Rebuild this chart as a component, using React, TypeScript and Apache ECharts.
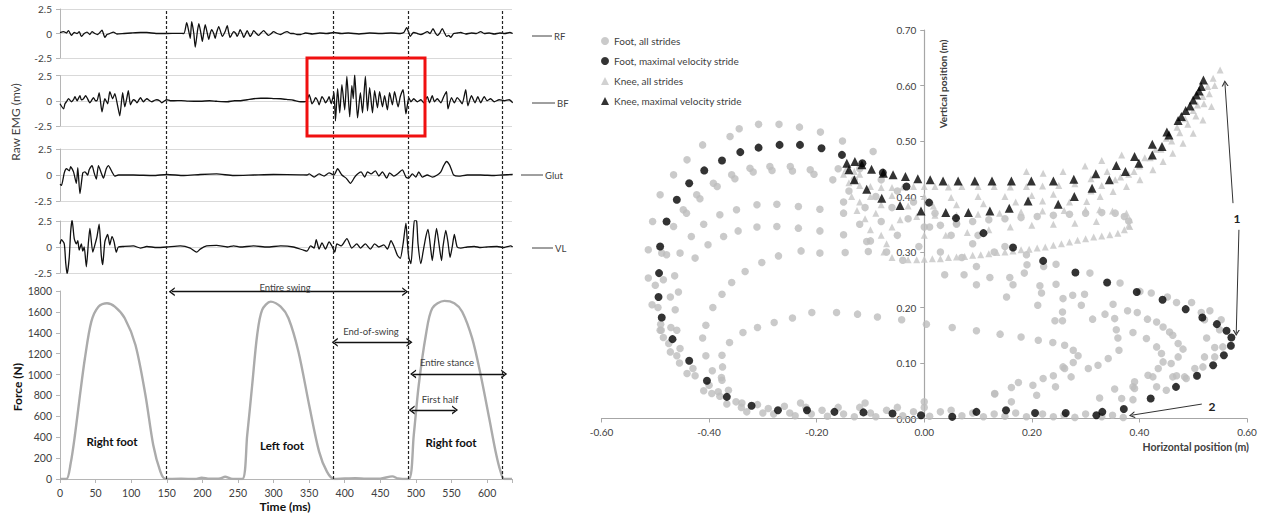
import React, { useEffect, useRef } from 'react';
import * as echarts from 'echarts';

const FONT = 'Lato, "Open Sans", sans-serif';
const TMAX = 635;

// ---------- EMG traces: [time ms, mV] ----------
const rf: number[][] = [[0,0.1],[5,0.2],[9,0.05],[12,0.3],[16,-0.2],[20,0.1],[24,0.0],[27,0.2],[30,-0.3],[34,0.0],[38,0.15],[42,-0.1],[45,0.2],[49,0.0],[53,-0.1],[56,0.1],[59,0.35],[63,-0.4],[66,-0.1],[70,0.0],[75,0.15],[80,-0.05],[90,0.0],[100,0.05],[113,0.1],[122,0.1],[135,0.0],[150,0.0],[165,0.02],[174,0.0],[178,1.1],[181,0.2],[183,-0.5],[185,1.2],[188,0.0],[190,-1.4],[193,0.2],[195,1.0],[198,0.0],[200,-0.8],[202,0.1],[204,0.9],[207,0.0],[209,-0.6],[211,0.0],[213,0.4],[216,0.0],[218,-0.5],[220,0.1],[223,0.7],[226,0.1],[228,-0.3],[232,0.2],[235,0.8],[237,0.1],[239,-0.4],[242,0.0],[244,0.2],[247,0.0],[249,-0.3],[251,0.0],[253,0.4],[256,0.0],[258,-0.4],[261,0.0],[263,0.3],[265,0.0],[267,-0.3],[270,0.0],[272,0.3],[276,0.0],[279,-0.2],[283,0.1],[286,0.3],[290,0.0],[293,-0.2],[297,0.0],[300,0.2],[305,0.0],[310,-0.1],[315,0.1],[319,0.2],[324,0.0],[328,0.0],[333,-0.1],[338,-0.1],[345,0.05],[355,-0.05],[365,0.05],[375,0.0],[385,0.1],[395,0.0],[405,0.05],[420,-0.05],[435,0.05],[450,0.0],[465,0.05],[478,0.0],[483,0.1],[487,0.6],[490,0.1],[492,-0.3],[495,0.0],[497,0.1],[502,0.0],[507,-0.1],[512,0.05],[516,0.2],[520,0.0],[524,0.5],[527,0.1],[530,-0.2],[534,0.1],[537,0.5],[540,0.1],[543,-0.3],[546,-0.2],[549,-0.4],[553,0.0],[558,0.05],[563,0.1],[570,-0.05],[578,0.05],[585,0.0],[591,0.2],[596,0.0],[603,0.05],[610,-0.05],[618,0.05],[625,0.0],[632,0.1],[636,0.0]];

const bf: number[][] = [[0,-0.3],[5,-0.8],[7,-0.3],[10,0.0],[12,0.2],[16,-0.1],[19,0.1],[21,0.4],[24,0.0],[28,0.5],[30,0.1],[33,0.2],[36,0.5],[38,0.3],[42,-0.2],[45,0.1],[47,0.3],[50,0.0],[52,0.0],[55,0.8],[59,-1.1],[63,0.2],[67,-0.3],[70,0.9],[74,0.2],[77,0.7],[81,-0.5],[84,-1.5],[88,0.8],[91,-0.6],[94,0.3],[96,1.0],[99,-0.4],[103,0.1],[106,0.0],[108,-0.2],[111,0.1],[113,0.3],[117,-0.1],[120,0.1],[122,0.2],[126,0.0],[129,-0.1],[133,0.05],[136,0.1],[140,0.0],[143,-0.2],[147,0.0],[150,0.1],[155,0.0],[160,0.0],[170,0.02],[180,-0.03],[197,-0.05],[210,0.0],[220,-0.05],[235,-0.1],[245,0.0],[253,0.0],[263,0.1],[272,0.2],[282,0.25],[291,0.25],[300,0.22],[310,0.2],[320,0.12],[328,0.05],[338,-0.1],[343,-0.1],[347,0.0],[350,0.6],[352,0.2],[354,-0.3],[357,0.0],[359,0.3],[362,0.0],[364,-0.4],[366,0.0],[368,0.4],[371,0.1],[373,-0.2],[376,0.1],[378,0.4],[381,-0.3],[383,0.2],[385,0.8],[387,-2.0],[390,1.2],[393,-1.2],[396,1.6],[400,-0.9],[403,2.4],[407,-1.6],[410,1.5],[412,0.2],[414,2.6],[418,-1.7],[422,0.8],[425,-1.2],[429,2.4],[432,-1.0],[435,1.3],[439,-1.2],[442,1.0],[446,-0.7],[449,0.9],[453,-0.6],[456,0.5],[460,-0.9],[463,0.8],[467,-0.4],[470,0.9],[475,-0.6],[478,0.4],[482,1.1],[486,-1.3],[490,0.3],[493,-0.1],[497,0.2],[502,-0.1],[507,0.1],[511,-0.2],[516,0.4],[519,-0.2],[523,0.5],[526,-0.1],[530,0.2],[535,-0.2],[539,0.4],[543,0.9],[545,-0.8],[550,0.3],[554,-0.2],[558,0.3],[562,0.0],[565,-0.3],[570,1.1],[573,-0.5],[578,0.5],[583,-0.2],[587,0.4],[591,-0.2],[596,0.4],[600,0.0],[605,0.2],[610,-0.1],[617,0.1],[624,0.0],[631,0.1],[636,-0.2]];

const glut: number[][] = [[0,-0.9],[2,-1.0],[6,0.2],[9,0.6],[13,0.4],[15,0.8],[19,0.3],[23,-0.8],[25,0.7],[28,-1.8],[32,0.2],[35,0.3],[39,0.0],[41,0.5],[45,0.9],[48,0.2],[51,-0.4],[54,0.9],[58,0.2],[61,-0.3],[65,0.6],[68,0.9],[73,0.3],[77,-0.1],[82,0.0],[103,0.0],[131,-0.05],[150,0.05],[174,-0.05],[197,0.05],[220,0.1],[244,-0.05],[272,0.0],[300,0.05],[338,0.02],[347,0.0],[350,0.1],[357,-0.2],[364,0.1],[371,-0.1],[378,0.2],[385,0.0],[390,0.6],[396,0.0],[402,-0.3],[408,-0.8],[414,-0.2],[418,0.1],[423,0.3],[428,-0.2],[432,0.3],[437,0.1],[443,0.4],[448,-0.1],[453,0.3],[459,-0.3],[463,0.2],[469,-0.1],[474,0.1],[481,0.5],[486,-0.2],[490,-0.3],[495,0.1],[500,-0.2],[504,0.3],[509,-0.2],[516,0.0],[523,-0.2],[530,0.0],[535,0.3],[539,0.9],[543,1.3],[547,1.0],[550,0.5],[553,0.0],[560,-0.1],[572,0.0],[591,0.0],[610,-0.05],[621,0.0],[636,0.05]];

const vl: number[][] = [[0,0.3],[2,0.7],[6,0.3],[8,-1.5],[10,-2.6],[13,-1.0],[15,1.5],[17,2.6],[20,0.8],[23,0.3],[25,0.6],[27,-0.3],[30,0.3],[32,-0.4],[34,0.0],[37,-1.9],[40,0.5],[42,1.8],[46,-0.5],[49,0.2],[52,1.0],[55,2.2],[58,-0.8],[60,-1.7],[63,0.5],[67,1.2],[70,0.2],[73,1.0],[76,0.5],[79,-0.5],[82,0.0],[90,0.05],[103,0.1],[113,-0.1],[122,0.05],[136,-0.05],[150,0.0],[169,0.1],[183,-0.1],[192,-0.5],[197,-0.2],[206,0.1],[220,0.15],[235,0.0],[244,0.1],[253,0.0],[272,0.1],[291,0.0],[310,0.1],[328,0.0],[342,-0.3],[347,-0.4],[352,0.1],[357,-0.1],[360,0.7],[364,-0.2],[368,0.4],[373,-0.2],[378,0.5],[382,0.1],[386,-0.5],[389,0.3],[395,0.1],[403,0.8],[410,-0.1],[417,0.3],[422,-0.1],[429,0.3],[436,-0.2],[442,0.3],[448,0.0],[455,0.2],[460,-0.2],[465,0.6],[469,0.1],[474,-0.8],[478,-1.1],[482,0.3],[486,2.3],[488,0.5],[490,-1.0],[493,-1.6],[496,1.0],[498,2.6],[501,2.5],[503,0.3],[507,-1.6],[510,-0.5],[514,1.0],[517,1.7],[521,-0.3],[523,-1.3],[526,0.3],[529,1.8],[532,0.5],[536,-1.3],[538,0.0],[542,1.6],[545,0.5],[548,-1.0],[551,0.0],[554,1.2],[558,0.0],[563,-0.1],[572,0.0],[582,0.05],[591,-0.05],[600,0.0],[614,0.05],[624,-0.05],[633,0.1],[636,0.0]];

// ---------- Vertical force: [time ms, N] ----------
const force: number[][] = [[0,0],[9,0],[15,150],[21,421],[28,800],[35,1156],[44,1507],[54,1650],[66,1683],[77,1650],[91,1539],[106,1283],[120,805],[131,326],[141,70],[148,0],[170,3],[190,0],[199,12],[210,2],[225,5],[232,22],[240,4],[256,0],[263,420],[270,900],[277,1379],[284,1619],[296,1698],[310,1650],[321,1539],[335,1219],[350,709],[364,262],[375,70],[385,0],[400,5],[415,8],[430,2],[450,4],[467,25],[475,5],[490,0],[497,421],[504,900],[514,1379],[523,1635],[540,1705],[554,1683],[565,1602],[579,1348],[591,996],[603,581],[612,262],[619,70],[624,0],[635,0]];

const phaseTimes = [149, 384, 489, 621];
const forceTicks = [0, 200, 400, 600, 800, 1000, 1200, 1400, 1600, 1800];

// ---------- Trajectories: [horizontal m, vertical m] ----------
const footMax: number[][] = [[-0.153,0.475],[-0.191,0.487],[-0.231,0.493],[-0.269,0.493],[-0.308,0.488],[-0.342,0.480],[-0.376,0.465],[-0.409,0.447],[-0.437,0.424],[-0.460,0.394],[-0.479,0.355],[-0.491,0.310],[-0.493,0.262],[-0.494,0.219],[-0.488,0.182],[-0.468,0.143],[-0.437,0.104],[-0.404,0.068],[-0.367,0.039],[-0.321,0.023],[-0.272,0.015],[-0.218,0.015],[-0.167,0.012],[-0.113,0.011],[-0.059,0.009],[-0.006,0.006],[0.052,0.003],[0.097,0.012],[0.152,0.015],[0.206,0.010],[0.263,0.010],[0.320,0.006],[0.331,0.012],[0.371,0.017],[0.421,0.036],[0.468,0.057],[0.507,0.077],[0.537,0.096],[0.557,0.114],[0.570,0.131],[0.571,0.146],[0.562,0.158],[0.544,0.170],[0.517,0.182],[0.486,0.197],[0.443,0.214],[0.395,0.228],[0.340,0.245],[0.281,0.263],[0.221,0.284],[0.165,0.308],[0.110,0.334],[0.059,0.361],[0.009,0.389],[-0.033,0.418],[-0.077,0.443],[-0.115,0.460]];

const kneeMax: number[][] = [[-0.144,0.460],[-0.129,0.463],[-0.116,0.457],[-0.098,0.449],[-0.076,0.442],[-0.058,0.439],[-0.035,0.436],[-0.012,0.432],[0.011,0.430],[0.035,0.428],[0.063,0.428],[0.094,0.428],[0.126,0.428],[0.162,0.428],[0.199,0.428],[0.240,0.428],[0.278,0.431],[0.319,0.441],[0.357,0.456],[0.391,0.472],[0.424,0.494],[0.451,0.516],[0.472,0.537],[0.486,0.555],[0.500,0.574],[0.511,0.590],[0.519,0.610],[0.515,0.598],[0.506,0.583],[0.494,0.563],[0.478,0.544],[0.455,0.511],[0.442,0.490],[0.424,0.475],[0.399,0.460],[0.374,0.445],[0.344,0.430],[0.312,0.415],[0.279,0.400],[0.249,0.386],[0.193,0.392],[0.158,0.379],[0.122,0.374],[0.082,0.371],[0.040,0.371],[-0.006,0.374],[-0.045,0.384],[-0.079,0.397],[-0.107,0.413],[-0.130,0.430],[-0.140,0.448]];

const footAll: number[][] = [
[-0.095,0.481],[-0.152,0.500],[-0.193,0.516],[-0.232,0.525],[-0.270,0.530],[-0.308,0.530],[-0.344,0.522],[-0.361,0.508],[-0.412,0.493],[-0.441,0.466],[-0.466,0.439],[-0.491,0.403],[-0.505,0.355],[-0.513,0.304],
[-0.212,0.448],[-0.249,0.454],[-0.287,0.454],[-0.324,0.451],[-0.358,0.439],[-0.392,0.424],[-0.423,0.403],[-0.448,0.376],[-0.466,0.346],[-0.488,0.298],
[-0.205,0.440],[-0.245,0.446],[-0.283,0.447],[-0.318,0.444],[-0.352,0.432],[-0.385,0.418],[-0.417,0.396],[-0.442,0.370],
[-0.150,0.370],[-0.194,0.377],[-0.234,0.382],[-0.274,0.386],[-0.311,0.385],[-0.349,0.376],[-0.380,0.367],[-0.410,0.350],[-0.433,0.328],[-0.454,0.298],[-0.426,0.289],
[-0.107,0.319],[-0.150,0.331],[-0.194,0.338],[-0.234,0.343],[-0.274,0.346],[-0.311,0.345],[-0.346,0.338],[-0.373,0.328],[-0.402,0.313],
[-0.104,0.301],[-0.147,0.299],[-0.194,0.298],[-0.229,0.302],[-0.271,0.293],[-0.302,0.281],[-0.333,0.265],[-0.358,0.245],[-0.376,0.224],[-0.393,0.200],[-0.406,0.168],[-0.412,0.145],[-0.406,0.113],[-0.394,0.086],[-0.376,0.069],[-0.364,0.051],
[-0.042,0.178],[-0.087,0.183],[-0.124,0.188],[-0.163,0.191],[-0.209,0.191],[-0.245,0.181],[-0.279,0.173],[-0.310,0.164],[-0.337,0.155],[-0.362,0.137],[-0.376,0.114],[-0.375,0.093],[-0.377,0.074],
[0.004,0.170],[0.052,0.164],[0.097,0.158],[0.141,0.152],[0.180,0.147],[0.212,0.141],[0.239,0.137],[0.261,0.132],[0.277,0.123],[0.286,0.113],[0.277,0.101],[0.261,0.090],[0.240,0.077],[0.221,0.072],[0.202,0.060],[0.175,0.065],[0.162,0.056],[0.131,0.044],
[-0.513,0.253],[-0.506,0.205],[-0.489,0.159],[-0.485,0.146],[-0.472,0.120],[-0.460,0.113],[-0.454,0.126],[-0.441,0.081],[-0.426,0.077],[-0.410,0.050],[-0.395,0.045],[-0.383,0.048],[-0.367,0.026],[-0.339,0.028],[-0.460,0.159],[-0.464,0.257],[-0.472,0.219],[-0.457,0.228],[-0.463,0.196],[-0.471,0.164],[-0.491,0.159],[-0.485,0.250],[-0.479,0.295],
[-0.500,0.240],[-0.495,0.200],[-0.490,0.170],[-0.475,0.135],[-0.455,0.100],[-0.430,0.090],[-0.400,0.060],[-0.380,0.040],[-0.350,0.030],
[-0.340,0.020],[-0.330,0.012],[-0.300,0.010],[-0.290,0.018],[-0.280,0.008],[-0.260,0.022],[-0.250,0.010],[-0.240,0.005],[-0.220,0.020],[-0.210,0.008],[-0.190,0.015],[-0.180,0.004],[-0.160,0.020],[-0.150,0.008],[-0.130,0.003],[-0.120,0.020],[-0.100,0.010],[-0.090,0.003],[-0.070,0.015],[-0.050,0.020],[-0.040,0.005],[-0.020,0.012],[0.000,0.020],[0.010,0.004],[0.030,0.012],[0.050,0.015],[0.070,0.005],[0.090,0.010],[0.110,0.003],[0.130,0.008],[0.150,0.004],[0.170,0.010],[0.190,0.003],[0.220,0.008],[0.240,0.003],[0.260,0.006],[0.280,0.002],[0.300,0.008],[0.330,0.003],[0.350,0.006],[0.370,0.002],[-0.230,0.028],[-0.110,0.028],[0.000,0.030],[-0.310,0.025],
[0.222,0.274],[0.245,0.278],[0.308,0.262],[0.364,0.244],[0.401,0.229],[0.422,0.226],[0.452,0.219],[0.469,0.209],[0.497,0.209],[0.515,0.191],[0.531,0.194],[0.552,0.178],[0.521,0.178],[0.549,0.160],[0.525,0.145],[0.540,0.128],[0.555,0.129],[0.521,0.111],[0.540,0.111],[0.518,0.093],[0.503,0.090],[0.487,0.072],[0.469,0.077],[0.450,0.051],[0.432,0.057],[0.416,0.078],[0.391,0.066],[0.391,0.054],[0.388,0.034],[0.367,0.036],[0.354,0.053],[0.326,0.037],
[0.257,0.176],[0.257,0.192],[0.292,0.204],[0.276,0.222],[0.258,0.216],[0.298,0.224],[0.313,0.179],[0.336,0.188],[0.351,0.206],[0.354,0.180],[0.357,0.160],[0.360,0.145],[0.362,0.123],[0.378,0.194],[0.396,0.191],[0.388,0.155],[0.415,0.179],[0.432,0.174],[0.444,0.165],[0.456,0.156],[0.462,0.150],[0.472,0.135],[0.481,0.125],[0.472,0.111],[0.459,0.099],[0.413,0.144],[0.432,0.129],[0.441,0.117],[0.444,0.102],[0.435,0.090],[0.425,0.075],[0.388,0.057],[0.462,0.075],[0.484,0.075],
[0.038,0.259],[0.074,0.259],[0.097,0.241],[0.122,0.254],[0.159,0.254],[0.186,0.262],[0.165,0.241],[0.153,0.219],[0.097,0.274],[0.191,0.277],[0.215,0.239],[0.218,0.226],[0.245,0.242],[0.211,0.204],[0.243,0.176],
[0.258,0.093],[0.273,0.075],[0.305,0.090],[0.323,0.096],[0.342,0.108],[0.244,0.057],[0.209,0.042],[0.162,0.030],[0.131,0.045],
[-0.120,0.450],[-0.080,0.430],[-0.050,0.410],[-0.020,0.390],[0.020,0.370],[0.060,0.350],[0.100,0.330],[0.150,0.310],[0.190,0.295],[-0.130,0.430],[-0.090,0.400],[-0.060,0.380],[-0.030,0.360],[0.010,0.345],[0.050,0.330],[0.090,0.315],[0.130,0.300],[-0.140,0.410],[-0.110,0.380],[-0.080,0.355],[-0.050,0.330],[-0.010,0.310],[0.030,0.300],[0.070,0.290],[-0.120,0.350],[-0.100,0.320],[-0.070,0.300],[-0.040,0.285],[-0.160,0.450],[-0.170,0.430],[-0.150,0.390],
[0.000,0.345],[0.030,0.348],[0.060,0.352],[0.090,0.355],[0.120,0.358],[0.150,0.360],[0.180,0.362],[0.210,0.364],[0.240,0.366],[0.270,0.368],[0.300,0.370],[0.330,0.371],[0.355,0.370],[0.372,0.364],[0.380,0.356]
];

const kneeAll: number[][] = [
[-0.150,0.440],[-0.140,0.425],[-0.120,0.420],[-0.100,0.418],[-0.080,0.416],[-0.060,0.416],[-0.040,0.417],[-0.020,0.418],[0.000,0.418],[0.020,0.418],[0.045,0.417],[0.070,0.418],[0.100,0.418],[0.130,0.418],[0.160,0.417],[0.190,0.418],[0.220,0.419],[0.250,0.420],[0.280,0.423],
[0.190,0.445],[0.221,0.442],[0.258,0.445],[0.299,0.455],[0.330,0.465],[0.367,0.475],
[-0.100,0.400],[-0.060,0.402],[0.000,0.400],[0.050,0.398],[0.100,0.400],[0.150,0.400],[0.200,0.402],[0.240,0.404],
[-0.120,0.390],[-0.080,0.385],[-0.030,0.383],[0.017,0.383],[0.060,0.385],[0.110,0.387],[0.170,0.390],[0.220,0.392],[0.270,0.390],
[0.550,0.628],[0.537,0.613],[0.527,0.598],[0.518,0.580],[0.508,0.565],[0.534,0.562],[0.518,0.538],[0.500,0.514],[0.481,0.496],[0.462,0.478],[0.444,0.463],[0.425,0.448],[0.401,0.430],[0.376,0.418],[0.351,0.409],[0.327,0.400],[0.302,0.391],[0.540,0.600],[0.530,0.585],[0.520,0.567],[0.505,0.545],[0.490,0.530],[0.475,0.515],[0.460,0.500],[0.440,0.485],[0.420,0.470],[0.400,0.455],[0.380,0.440],[0.355,0.430],[0.330,0.420],[0.310,0.410],[0.500,0.555],[0.485,0.540],[0.470,0.525],[0.450,0.505],[0.430,0.485],[0.410,0.470],[0.390,0.445],[0.365,0.435],[0.340,0.445],[0.310,0.432],
[-0.045,0.358],[-0.014,0.364],[0.020,0.366],[0.060,0.366],[0.100,0.368],[0.140,0.370],[0.180,0.372],[0.220,0.374],[0.260,0.375],[0.300,0.376],[0.326,0.376],[0.350,0.374],[0.376,0.370],[0.382,0.358],[0.382,0.346],
[-0.030,0.286],[-0.014,0.286],[0.000,0.287],[0.015,0.288],[0.030,0.288],[0.045,0.290],[0.060,0.291],[0.075,0.292],[0.090,0.294],[0.105,0.295],[0.120,0.297],[0.135,0.299],[0.150,0.300],[0.165,0.302],[0.180,0.304],[0.195,0.305],[0.210,0.307],[0.225,0.309],[0.240,0.312],[0.255,0.315],[0.270,0.318],[0.285,0.321],[0.300,0.324],[0.315,0.327],[0.330,0.329],[0.345,0.331],[0.360,0.334],[0.372,0.340],[0.380,0.348],
[-0.080,0.330],[-0.060,0.345],[-0.070,0.315],[-0.100,0.340],[-0.110,0.360],[-0.090,0.370],[0.000,0.330],[0.040,0.330],[0.080,0.335],[0.120,0.340],[0.160,0.345],[0.200,0.348],[0.240,0.350],[0.280,0.352],[0.320,0.355],
[-0.145,0.450],[-0.130,0.445],[-0.120,0.440],[-0.135,0.400],[-0.125,0.375],[-0.060,0.290],[-0.075,0.300]
];

const seriesNames = ['Foot, all strides', 'Foot, maximal velocity stride', 'Knee, all strides', 'Knee, maximal velocity stride'];
const emgNames = ['RF', 'BF', 'Glut', 'VL'];
const emgTraces = [rf, bf, glut, vl];

const chevron = 'path://M0,10 L5,0 L10,10 L8.2,10 L5,3.6 L1.8,10 Z';

export default function App() {
  const ref = useRef<HTMLDivElement>(null);
  useEffect(() => {
    if (!ref.current) return;
    const chart = echarts.init(ref.current, undefined, { renderer: 'svg' });

    const emgGrids = [
      { left: 60, top: 9, width: 452, height: 49 },
      { left: 60, top: 75.5, width: 452, height: 50.5 },
      { left: 60, top: 149, width: 452, height: 52 },
      { left: 60, top: 221, width: 452, height: 52 },
    ];
    const axisGray = '#b5b5b5';
    const tickText = { fontSize: 10, color: '#404040', fontFamily: FONT };

    const scatterLeft = 601.5;
    const scatterWidth = 645.5;
    const xMin = -0.6, xMax = 0.6;
    const yAxisShift = -scatterWidth * (0 - xMin) / (xMax - xMin);

    const grid: any[] = [
      ...emgGrids,
      { left: 60, top: 291, width: 452, height: 188 },
      { left: 60, top: 9, width: 452, height: 470 },
      { left: scatterLeft, top: 30, width: scatterWidth, height: 388.5 },
    ];

    const xAxis: any[] = [];
    const yAxis: any[] = [];
    for (let i = 0; i < 4; i++) {
      xAxis.push({ gridIndex: i, type: 'value', min: 0, max: TMAX, show: false });
      yAxis.push({
        gridIndex: i, type: 'value', min: -2.5, max: 2.5, interval: 2.5,
        axisLine: { show: true, lineStyle: { color: axisGray } },
        axisTick: { show: true, length: 4, lineStyle: { color: axisGray } },
        axisLabel: { ...tickText, margin: 8, formatter: (v: number) => (v === 0 ? '0' : String(v)) },
        splitLine: { show: true, lineStyle: { color: '#d9d9d9', width: 1 } },
      });
    }
    xAxis.push({
      gridIndex: 4, type: 'value', min: 0, max: TMAX, interval: 50,
      axisLine: { show: true, lineStyle: { color: axisGray } },
      axisTick: { show: true, length: 4, lineStyle: { color: axisGray } },
      axisLabel: { ...tickText, fontSize: 10.5, margin: 8, formatter: (v: number) => (v % 50 === 0 ? String(v) : '') },
      splitLine: { show: false },
    });
    yAxis.push({
      gridIndex: 4, type: 'value', min: 0, max: 1800, interval: 200,
      axisLine: { show: true, lineStyle: { color: axisGray } },
      axisTick: { show: true, length: 4, lineStyle: { color: axisGray } },
      axisLabel: { ...tickText, fontSize: 10.5, margin: 8, formatter: (v: number) => (forceTicks.indexOf(v) >= 0 ? String(v) : '') },
      splitLine: { show: false },
    });
    xAxis.push({ gridIndex: 5, type: 'value', min: 0, max: TMAX, show: false });
    yAxis.push({ gridIndex: 5, type: 'value', min: 0, max: 1, show: false });
    xAxis.push({
      gridIndex: 6, type: 'value', min: xMin, max: xMax, interval: 0.2, position: 'bottom',
      axisLine: { show: true, onZero: false, lineStyle: { color: '#a6a6a6', width: 1.2 } },
      axisTick: { show: true, length: 4, lineStyle: { color: '#a6a6a6' } },
      axisLabel: { ...tickText, margin: 8, formatter: (v: number) => (Math.abs(v) < 1e-9 ? 0 : v).toFixed(2) },
      splitLine: { show: false },
      z: 1,
    });
    yAxis.push({
      gridIndex: 6, type: 'value', min: 0, max: 0.7, interval: 0.1, position: 'left', offset: yAxisShift,
      axisLine: { show: true, onZero: false, lineStyle: { color: '#a6a6a6', width: 1.2 } },
      axisTick: { show: true, length: 4, lineStyle: { color: '#a6a6a6' } },
      axisLabel: { ...tickText, margin: 8, formatter: (v: number) => (Math.abs(v) < 1e-9 ? 0 : v).toFixed(2) },
      splitLine: { show: false },
    });

    const series: any[] = [];
    emgTraces.forEach((tr, i) => {
      series.push({
        name: emgNames[i], type: 'line', xAxisIndex: i, yAxisIndex: i, data: tr,
        showSymbol: false, smooth: 0.2, silent: true,
        lineStyle: { color: '#111', width: 1.3 }, z: 3,
      });
    });

    series.push({
      name: 'Force', type: 'line', xAxisIndex: 4, yAxisIndex: 4, data: force,
      showSymbol: false, smooth: 0.3, silent: true,
      lineStyle: { color: '#ababab', width: 2.4 }, z: 3,
      markLine: {
        silent: true, symbol: [chevron, chevron], symbolSize: [9, 6],
        label: { show: false },
        lineStyle: { color: '#111', width: 1.3, type: 'solid' },
        data: [
          [{ coord: [157, 1794] }, { coord: [485, 1794] }],
          [{ coord: [386, 1309] }, { coord: [491, 1309] }],
          [{ coord: [496, 1006] }, { coord: [624, 1006] }],
          [{ coord: [494, 661] }, { coord: [555, 661] }],
        ],
      },
    });

    series.push({
      name: 'phases', type: 'line', xAxisIndex: 5, yAxisIndex: 5, data: [[0, 0]],
      showSymbol: false, silent: true, lineStyle: { opacity: 0 }, z: 4,
      markLine: {
        silent: true, symbol: ['none', 'none'], label: { show: false },
        lineStyle: { color: '#222', width: 1.2, type: [3, 2] },
        data: phaseTimes.map((t) => ({ xAxis: t })),
      },
    });

    series.push({
      name: seriesNames[0], type: 'scatter', xAxisIndex: 6, yAxisIndex: 6, data: footAll,
      symbol: 'circle', symbolSize: 7.5, itemStyle: { color: '#bdbdbd' }, z: 2, silent: true,
    });
    series.push({
      name: seriesNames[1], type: 'scatter', xAxisIndex: 6, yAxisIndex: 6, data: footMax,
      symbol: 'circle', symbolSize: 8, itemStyle: { color: '#000' }, z: 4, silent: true,
    });
    series.push({
      name: seriesNames[2], type: 'scatter', xAxisIndex: 6, yAxisIndex: 6, data: kneeAll,
      symbol: 'triangle', symbolSize: 7, itemStyle: { color: '#c6c6c6' }, z: 3, silent: true,
    });
    series.push({
      name: seriesNames[3], type: 'scatter', xAxisIndex: 6, yAxisIndex: 6, data: kneeMax,
      symbol: 'triangle', symbolSize: 9, itemStyle: { color: '#000' }, z: 5, silent: true,
      markLine: {
        silent: true, symbol: ['none', chevron], symbolSize: [7, 6],
        label: { show: false },
        lineStyle: { color: '#333', width: 1, type: 'solid' },
        data: [
          [{ coord: [0.574, 0.388] }, { coord: [0.559, 0.604] }],
          [{ coord: [0.585, 0.340] }, { coord: [0.580, 0.154] }],
          [{ coord: [0.516, 0.026] }, { coord: [0.386, 0.006] }],
        ],
      },
    });

    const txt = (text: string, x: number, y: number, size: number, opts: any = {}) => ({
      type: 'text', x, y, rotation: opts.rotation || 0, z: 100,
      style: {
        text, fill: opts.color || '#404040',
        font: `${opts.bold ? 'bold ' : ''}${size}px ${FONT}`,
        textAlign: opts.align || 'center', align: opts.align || 'center',
        textVerticalAlign: 'middle', verticalAlign: 'middle',
      },
    });

    const labelYs = [36, 103, 175, 248];
    const labelX0 = [532, 532, 521, 532];
    const labelX1 = [552, 555, 543, 553];
    const graphic: any[] = [];
    emgNames.forEach((n, i) => {
      graphic.push({ type: 'line', z: 100, shape: { x1: labelX0[i], y1: labelYs[i], x2: labelX1[i], y2: labelYs[i] }, style: { stroke: '#404040', lineWidth: 1 } });
      graphic.push(txt(n, labelX1[i] + 2, labelYs[i], 9.5, { align: 'left' }));
    });
    graphic.push(txt('Raw EMG (mv)', 15, 122, 12, { rotation: Math.PI / 2 }));
    graphic.push(txt('Force (N)', 17, 387, 12, { rotation: Math.PI / 2, bold: true, color: '#111' }));
    graphic.push(txt('Time (ms)', 285, 506, 12, { bold: true, color: '#111' }));
    graphic.push(txt('Entire swing', 285, 287, 9.5));
    graphic.push(txt('End-of-swing', 371, 331, 9.5));
    graphic.push(txt('Entire stance', 447, 362, 9.5));
    graphic.push(txt('First half', 440, 399, 9.5));
    graphic.push(txt('Right foot', 112, 441, 11.5, { bold: true, color: '#111' }));
    graphic.push(txt('Left foot', 282, 445, 11.5, { bold: true, color: '#111' }));
    graphic.push(txt('Right foot', 451, 442, 11.5, { bold: true, color: '#111' }));
    graphic.push({ type: 'rect', z: 120, shape: { x: 307, y: 58, width: 118, height: 78 }, style: { stroke: '#f01010', lineWidth: 3, fill: 'none' } });
    graphic.push(txt('Horizontal position (m)', 1249, 447, 10.5, { bold: true, align: 'right' }));
    graphic.push(txt('Vertical position (m)', 943, 84, 10, { bold: true, rotation: Math.PI / 2 }));
    graphic.push(txt('1', 1237, 218, 12, { bold: true, color: '#222' }));
    graphic.push(txt('2', 1212, 406, 12, { bold: true, color: '#222' }));

    chart.setOption({
      animation: false,
      backgroundColor: '#fff',
      textStyle: { fontFamily: FONT },
      grid,
      xAxis,
      yAxis,
      series,
      graphic,
      legend: {
        orient: 'vertical', left: 596, top: 31, itemWidth: 8, itemHeight: 8, itemGap: 10,
        selectedMode: false,
        textStyle: { fontSize: 10, color: '#404040', fontFamily: FONT },
        data: [
          { name: seriesNames[0], icon: 'circle' },
          { name: seriesNames[1], icon: 'circle' },
          { name: seriesNames[2], icon: 'triangle' },
          { name: seriesNames[3], icon: 'triangle' },
        ],
      },
    });
    return () => chart.dispose();
  }, []);
  return <div ref={ref} style={{ position: 'absolute', left: 0, top: 0, width: 1263, height: 513, background: '#fff' }} />;
}
